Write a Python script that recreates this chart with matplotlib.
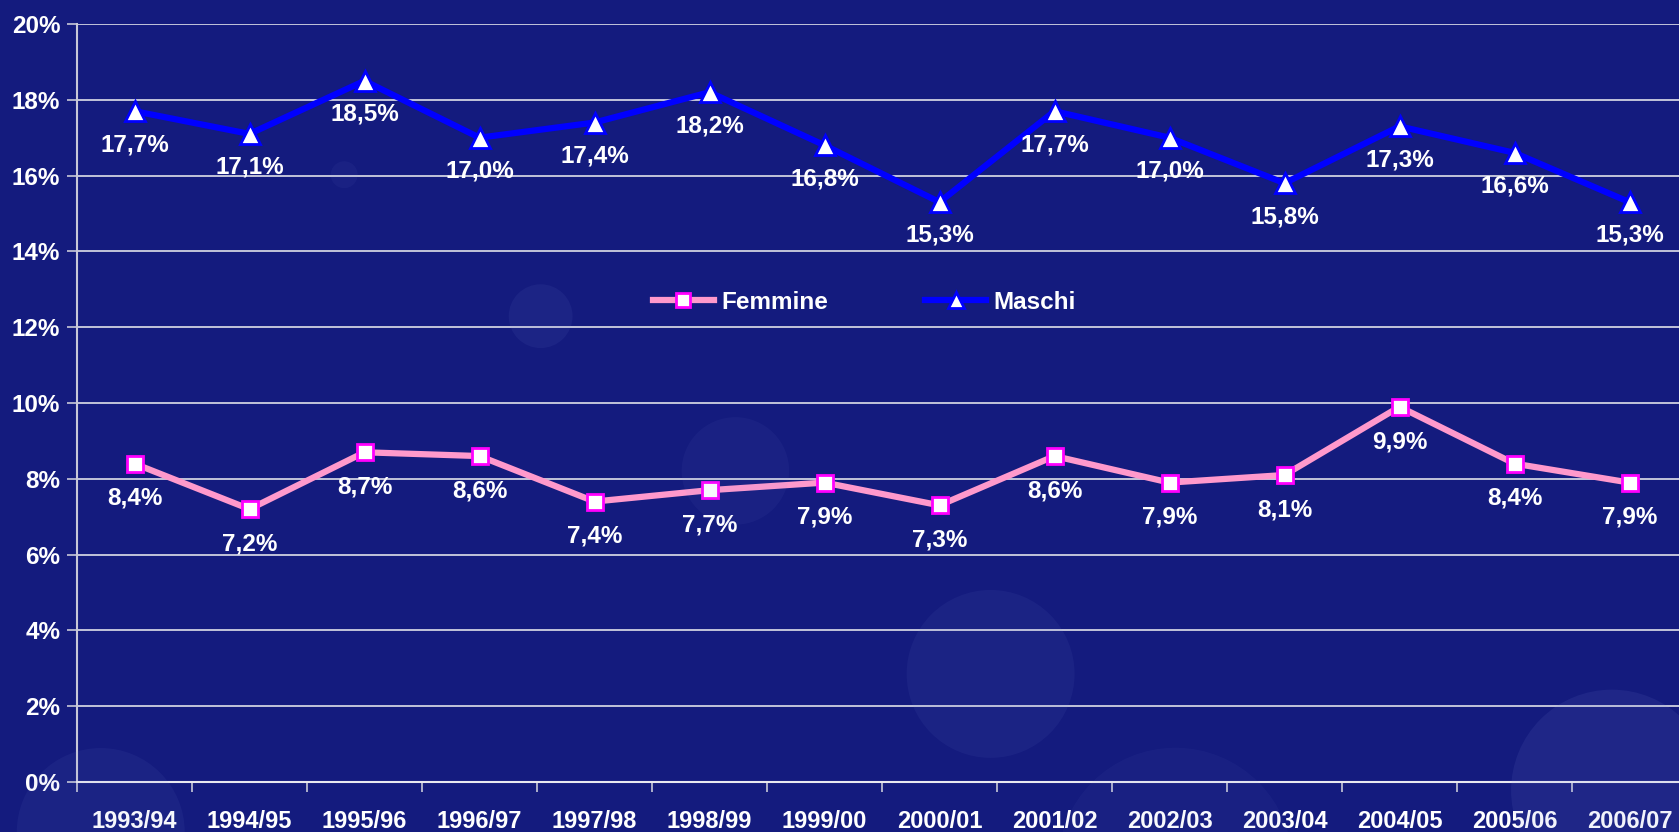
import matplotlib
matplotlib.use("Agg")
import matplotlib.pyplot as plt
from matplotlib.patches import Circle
from matplotlib.ticker import FixedLocator, FuncFormatter

plt.rcParams['font.family'] = ['Liberation Sans', 'DejaVu Sans']

anni = ['1993/94', '1994/95', '1995/96', '1996/97', '1997/98', '1998/99', '1999/00',
        '2000/01', '2001/02', '2002/03', '2003/04', '2004/05', '2005/06', '2006/07']
femmine = [8.4, 7.2, 8.7, 8.6, 7.4, 7.7, 7.9, 7.3, 8.6, 7.9, 8.1, 9.9, 8.4, 7.9]
maschi = [17.7, 17.1, 18.5, 17.0, 17.4, 18.2, 16.8, 15.3, 17.7, 17.0, 15.8, 17.3, 16.6, 15.3]

bg = '#141B7E'
fig = plt.figure(figsize=(16.79, 8.32), dpi=100, facecolor=bg)

# bolle decorative sullo sfondo
for cx, cy, r, a in [(0.322, 0.62, 0.019, 0.08), (0.438, 0.434, 0.032, 0.06),
                     (0.59, 0.19, 0.05, 0.07), (0.205, 0.79, 0.008, 0.06),
                     (0.06, 0.0, 0.05, 0.07), (0.70, -0.04, 0.07, 0.05),
                     (0.96, 0.05, 0.06, 0.10)]:
    fig.patches.append(Circle((cx * 16.79, cy * 8.32), r * 16.79, transform=fig.dpi_scale_trans,
                              facecolor='#8090E0', alpha=a, edgecolor='none', zorder=0))

ax = fig.add_axes([77 / 1679, 50 / 832, 1610 / 1679, 758 / 832])
ax.set_facecolor('none')

x = list(range(len(anni)))
ax.plot(x, femmine, color='#FF99CC', lw=4.5, marker='s', ms=12, mfc='white',
        mec='#FF00FF', mew=2, label='Femmine', zorder=3)
ax.plot(x, maschi, color='#0000FF', lw=4.5, marker='^', ms=15, mfc='white',
        mec='#0000FF', mew=2, label='Maschi', zorder=3)

for xi, v in zip(x, femmine):
    ax.annotate(f'{v:.1f}%'.replace('.', ','), (xi, v), xytext=(0, -25), textcoords='offset points',
                ha='center', va='center', color='white', fontsize=17.5, fontweight='bold')
for xi, v in zip(x, maschi):
    ax.annotate(f'{v:.1f}%'.replace('.', ','), (xi, v), xytext=(0, -24), textcoords='offset points',
                ha='center', va='center', color='white', fontsize=17.5, fontweight='bold')

ax.set_xlim(-0.5, len(anni) - 0.5)
ax.set_ylim(0, 20)
ax.set_yticks(range(0, 21, 2))
ax.yaxis.set_major_formatter(FuncFormatter(lambda v, p: f'{v:.0f}%'))
ax.set_xticks(x)
ax.set_xticklabels(anni)
ax.xaxis.set_minor_locator(FixedLocator([i - 0.5 for i in range(len(anni) + 1)]))
ax.tick_params(axis='x', which='major', length=0, pad=20, labelsize=17, labelcolor='white')
ax.tick_params(axis='x', which='minor', length=7, width=1.2, color='#C8C8D8', direction='out')
ax.tick_params(axis='y', length=7, width=1.2, color='#C8C8D8', labelsize=17.5, labelcolor='white', pad=5)
for lab in ax.get_xticklabels() + ax.get_yticklabels():
    lab.set_fontweight('bold')

ax.grid(axis='y', color='#E0E0EA', lw=1.2)
ax.set_axisbelow(True)
for s in ['top', 'right']:
    ax.spines[s].set_visible(False)
ax.spines['left'].set_color('#C8C8D8')
ax.spines['left'].set_linewidth(1.5)
ax.spines['bottom'].set_color('#E8E8F0')
ax.spines['bottom'].set_linewidth(1.5)

leg = ax.legend(loc='center', bbox_to_anchor=(0.489, 0.633), ncol=2, frameon=False,
                handlelength=2.5, columnspacing=4.0, handletextpad=0.3, markerscale=0.8,
                prop={'size': 17.5, 'weight': 'bold'})
for t in leg.get_texts():
    t.set_color('white')

fig.savefig('out.png', dpi=100, facecolor=bg)
